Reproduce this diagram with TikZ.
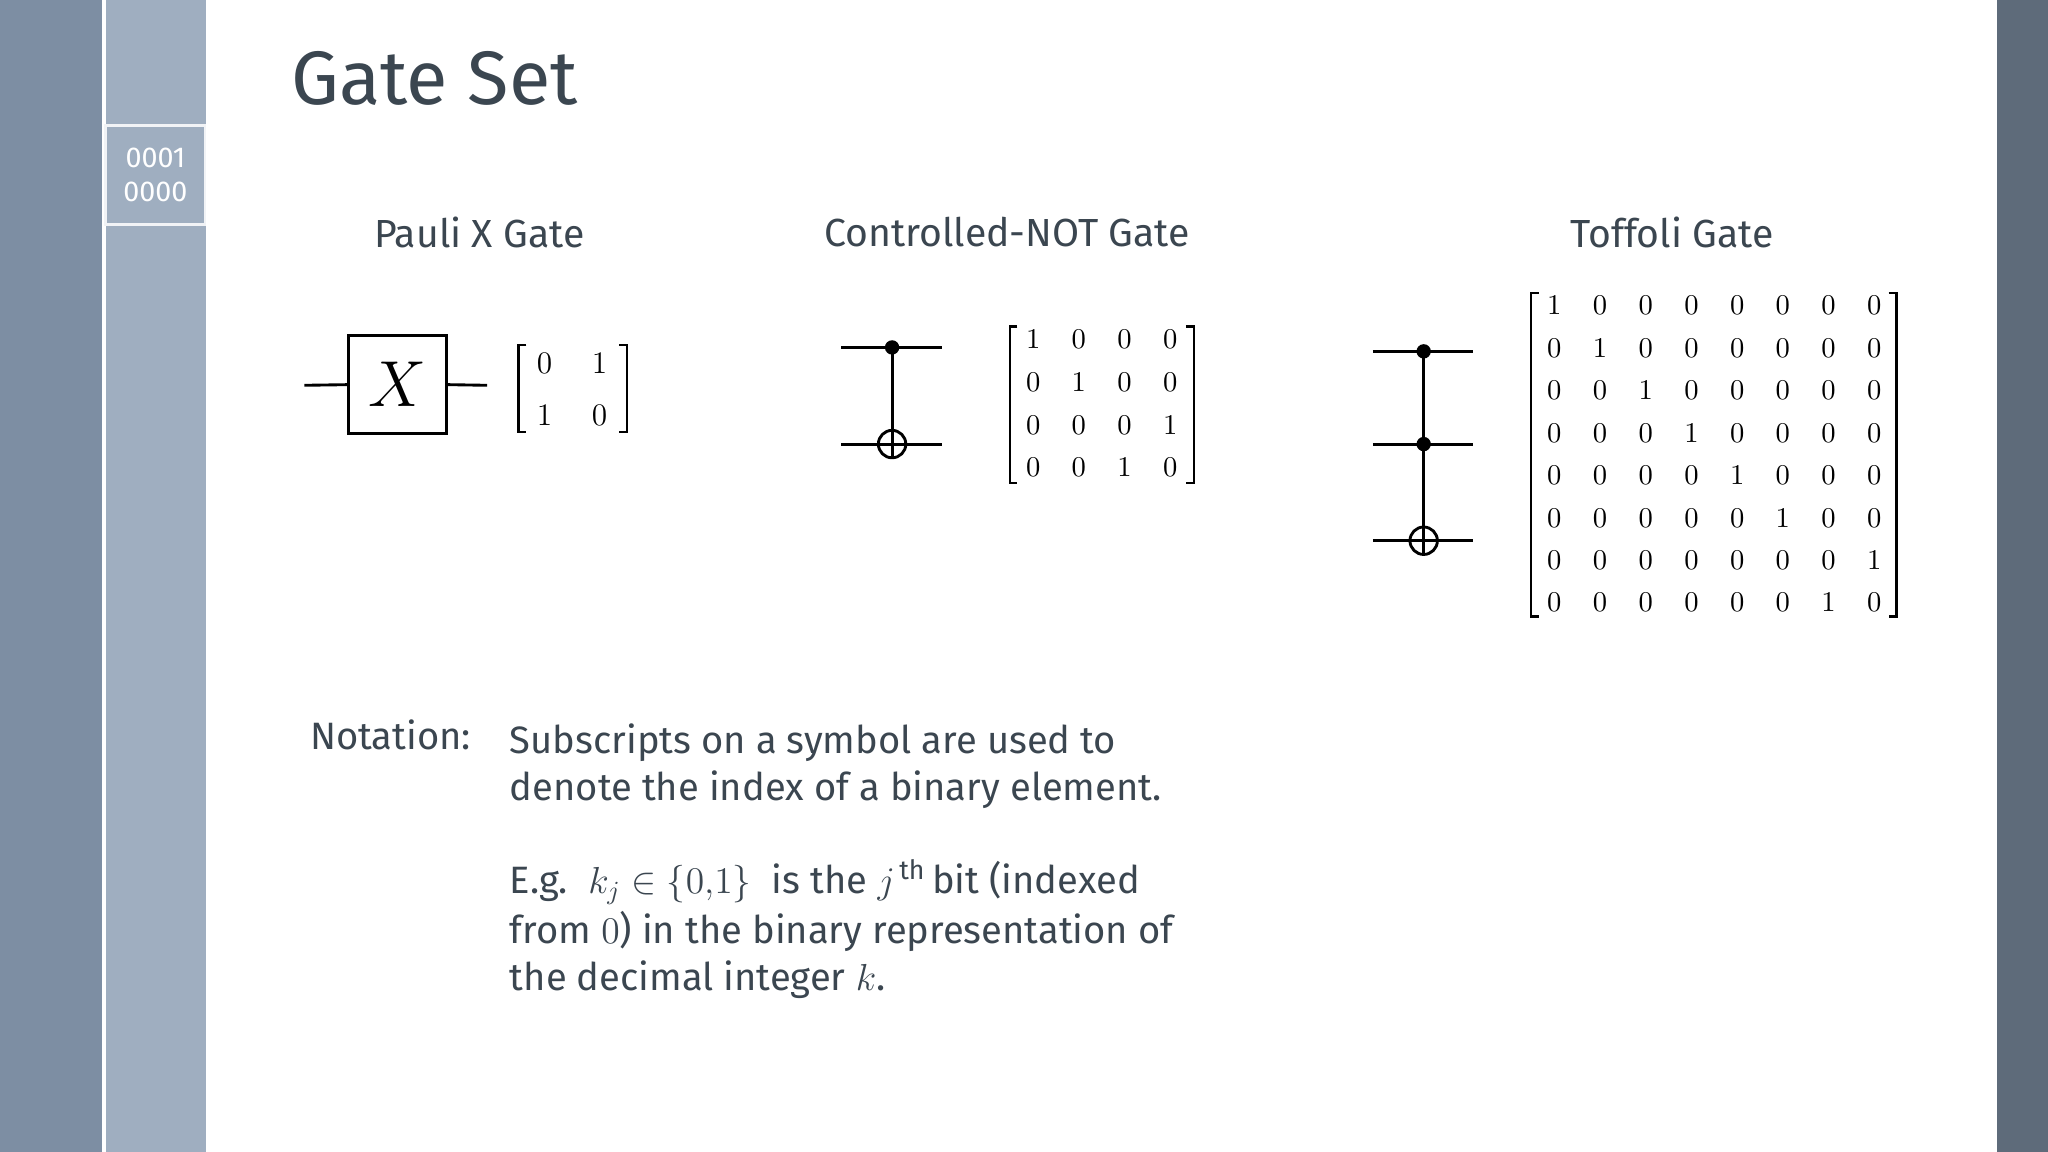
\documentclass[tikz,border=0pt]{standalone}
\usepackage{fontspec}
\setmainfont{Fira Sans}
\begin{document}
\begin{tikzpicture}[x=0.5pt,y=-0.5pt,
  wire/.style={line width=1.1pt,black},
  ent/.style={font=\fontsize{11}{11}\selectfont, inner sep=0pt},
  head/.style={font=\fontsize{15}{18}\selectfont, text=txt},
  body/.style={font=\fontsize{14.6}{18}\selectfont, text=txt, align=left, anchor=north west, inner sep=0pt}]
\definecolor{txt}{HTML}{3B4650}
\definecolor{sideA}{HTML}{7D8EA3}
\definecolor{sideB}{HTML}{9FAEC0}
\definecolor{sideR}{HTML}{5E6B7A}
\useasboundingbox (0,0) rectangle (1568,882);
\fill[white] (0,0) rectangle (1568,882);
\fill[sideA] (0,0) rectangle (78,882);
\fill[sideB] (81,0) rectangle (158,882);
\fill[sideR] (1529,0) rectangle (1568,882);
\draw[white!85!sideB, line width=1pt] (81,96) rectangle (157,172);
\node[font=\fontsize{11}{13}\selectfont, text=white, align=center] (box) at (119,134) {0001\\0000};
\node[font=\fontsize{29}{34}\selectfont, text=txt, anchor=west] (title) at (216,60) {Gate Set};
\node[head] (h1) at (367,178) {Pauli X Gate};
\node[head] (h2) at (771,178) {Controlled-NOT Gate};
\node[head] (h3) at (1280,178) {Toffoli Gate};
% Pauli X
\node[draw, line width=1.1pt, minimum width=37.5pt, minimum height=37.5pt, font=\fontsize{24}{24}\selectfont] (xg) at (304.5,294.5) {$X$};
\coordinate (xl) at (233,295); \coordinate (xr) at (373,295);
\draw[wire] (xl) -- (xg.west); \draw[wire] (xg.east) -- (xr);
\foreach \i/\r in {0/{0,1},1/{1,0}} {
  \foreach \v [count=\j from 0] in \r {
    \node[ent, font=\fontsize{13}{13}\selectfont] (p\i\j) at (417+42*\j, 278+40*\i) {$\v$};
  }}
\draw[line width=0.8pt] (403,264) -- (397,264) -- (397,331) -- (403,331);
\draw[line width=0.8pt] (474,264) -- (480,264) -- (480,331) -- (474,331);
% CNOT
\coordinate (c1l) at (644,266); \coordinate (c1r) at (721,266);
\coordinate (c2l) at (644,340); \coordinate (c2r) at (721,340);
\draw[wire] (c1l) -- (c1r); \draw[wire] (c2l) -- (c2r);
\node[circle, fill=black, inner sep=0pt, minimum size=5.5pt] (cd) at (683,266) {};
\node[circle, draw, line width=1.1pt, inner sep=0pt, minimum size=10.5pt] (ct) at (683,340) {};
\draw[wire] (cd.center) -- (ct.south);
\draw[wire] (ct.west) -- (ct.east);
\foreach \i/\r in {0/{1,0,0,0},1/{0,1,0,0},2/{0,0,0,1},3/{0,0,1,0}} {
  \foreach \v [count=\j from 0] in \r {
    \node[ent] (c\i\j) at (791+35*\j, 260+32.7*\i) {$\v$};
  }}
\draw[line width=0.8pt] (779,250) -- (773,250) -- (773,370) -- (779,370);
\draw[line width=0.8pt] (908,250) -- (914,250) -- (914,370) -- (908,370);
% Toffoli
\coordinate (t1l) at (1051,269); \coordinate (t1r) at (1128,269);
\coordinate (t2l) at (1051,340); \coordinate (t2r) at (1128,340);
\coordinate (t3l) at (1051,414); \coordinate (t3r) at (1128,414);
\draw[wire] (t1l) -- (t1r); \draw[wire] (t2l) -- (t2r); \draw[wire] (t3l) -- (t3r);
\node[circle, fill=black, inner sep=0pt, minimum size=5.5pt] (td1) at (1090,269) {};
\node[circle, fill=black, inner sep=0pt, minimum size=5.5pt] (td2) at (1090,340) {};
\node[circle, draw, line width=1.1pt, inner sep=0pt, minimum size=10.5pt] (tt) at (1090,414) {};
\draw[wire] (td1.center) -- (tt.south);
\draw[wire] (tt.west) -- (tt.east);
\foreach \i in {0,...,7} {
  \foreach \j in {0,...,7} {
    \pgfmathtruncatemacro\v{ (\i<6 && \i==\j) || (\i==6 && \j==7) || (\i==7 && \j==6) ? 1 : 0 }
    \node[ent] (t\i\j) at (1190+35*\j, 234+32.5*\i) {$\v$};
  }}
\draw[line width=0.8pt] (1178,224) -- (1172,224) -- (1172,472) -- (1178,472);
\draw[line width=0.8pt] (1446,224) -- (1452,224) -- (1452,472) -- (1446,472);
% Notation
\node[body] (nl) at (237,551) {Notation:};
\node[body] (n1) at (390,554) {Subscripts on a symbol are used to\\denote the index of a binary element.};
\node[body] (n2) at (390,658) {E.g.\ \ $k_j\in\{0{,}1\}$\ \ is the $j^{\,\mathrm{th}}$\,bit (indexed\\[1pt]from $0$) in the binary representation of\\the decimal integer $k$.};
\end{tikzpicture}
\end{document}
